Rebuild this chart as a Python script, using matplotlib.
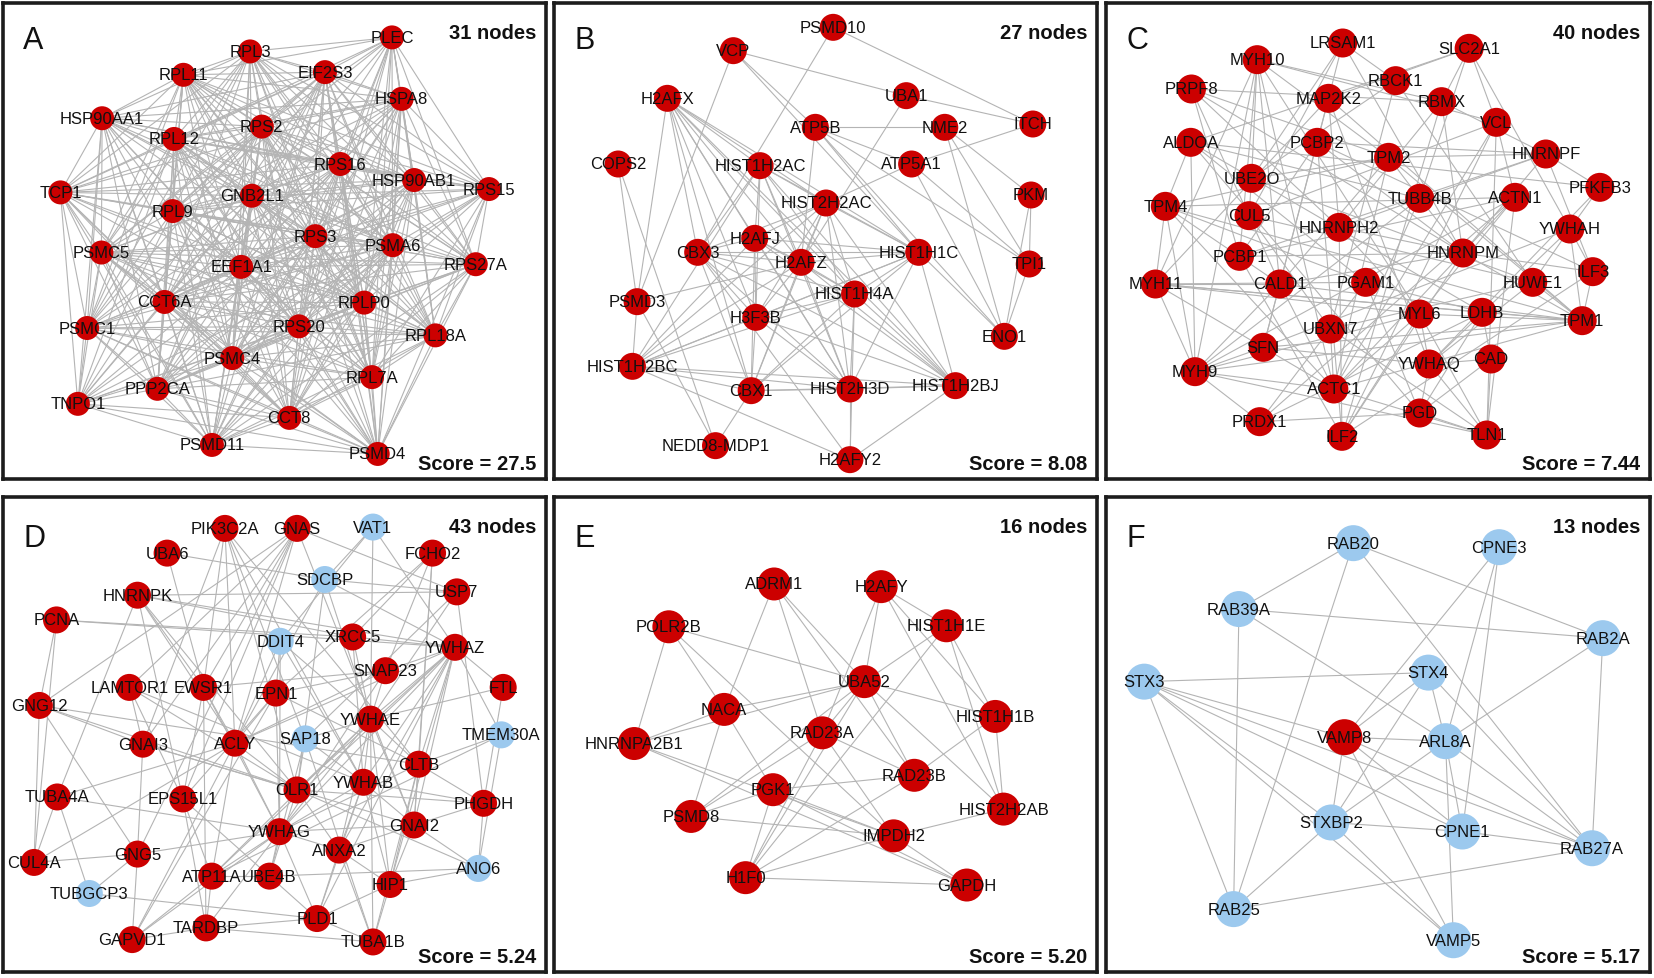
import itertools
import matplotlib
matplotlib.use("Agg")
import matplotlib.pyplot as plt
from matplotlib.collections import LineCollection

plt.rcParams['font.family'] = ['Liberation Sans', 'DejaVu Sans']

W, H = 1654, 979
RED = "#cc0000"
BLUE = "#9cc9ee"
EDGE = "#b4b4b4"

# ---------------- panel A ----------------
A_names = ["PLEC", "RPL3", "RPL11", "EIF2S3", "HSPA8", "HSP90AA1", "RPS2", "RPL12",
           "RPS16", "HSP90AB1", "RPS15", "TCP1", "GNB2L1", "RPL9", "RPS3", "PSMA6",
           "PSMC5", "EEF1A1", "RPS27A", "CCT6A", "RPLP0", "PSMC1", "RPS20", "RPL18A",
           "PSMC4", "RPL7A", "PPP2CA", "TNPO1", "CCT8", "PSMD11", "PSMD4"]
A_x = [1103, 705, 518, 915, 1130, 290, 738, 492, 958, 1165, 1375, 173, 710, 488, 888, 1105,
       288, 680, 1338, 465, 1025, 248, 842, 1225, 655, 1047, 445, 222, 815, 598, 1063]
A_y = [118, 160, 230, 222, 302, 360, 385, 422, 497, 545, 572, 582, 592, 638, 713, 740,
       762, 805, 797, 910, 912, 988, 983, 1010, 1078, 1135, 1170, 1215, 1257, 1338, 1365]
# near-complete cluster: pairs that are NOT linked
A_missing = [
    ("PLEC", "TNPO1"), ("PLEC", "PSMC1"), ("PLEC", "PSMD11"), ("PLEC", "PPP2CA"),
    ("PLEC", "PSMC5"), ("PLEC", "TCP1"), ("PLEC", "HSP90AA1"), ("PLEC", "CCT6A"),
    ("PLEC", "PSMC4"), ("RPS15", "TNPO1"), ("RPS15", "PSMC1"), ("RPS15", "TCP1"),
    ("RPS15", "HSP90AA1"), ("RPS15", "PPP2CA"), ("RPS15", "PSMD11"), ("RPS15", "PSMC5"),
    ("RPS27A", "TNPO1"), ("RPS27A", "TCP1"), ("RPS27A", "PSMC1"), ("RPL18A", "TNPO1"),
    ("RPL18A", "HSP90AA1"), ("RPL18A", "TCP1"), ("TNPO1", "RPL3"), ("TNPO1", "EIF2S3"),
    ("TNPO1", "HSPA8"), ("TNPO1", "RPL11"), ("TNPO1", "HSP90AB1"), ("TNPO1", "RPS16"),
    ("TNPO1", "RPL7A"), ("PSMD4", "HSP90AA1"), ("PSMD4", "RPL11"), ("PSMD4", "TCP1"),
    ("PSMD4", "RPL3"), ("PSMD11", "RPL3"), ("PSMD11", "HSPA8"), ("PSMD11", "RPL11"),
    ("PSMC1", "HSPA8"), ("PSMC1", "EIF2S3"), ("PSMC1", "HSP90AB1"), ("PPP2CA", "HSPA8"),
    ("PPP2CA", "RPL3"), ("HSP90AA1", "RPS27A"), ("HSP90AA1", "RPL7A"), ("HSP90AA1", "CCT8"),
    ("TCP1", "RPL7A"), ("RPL3", "CCT8"), ("RPL11", "CCT8"), ("PSMC5", "HSP90AB1"),
    ("HSPA8", "PSMC5"), ("PLEC", "PSMD4"), ("RPS15", "CCT8"), ("TCP1", "PSMD4"),
]
missing_set = {frozenset(p) for p in A_missing}
A_edges = [p for p in itertools.combinations(A_names, 2) if frozenset(p) not in missing_set]

# ---------------- panel B ----------------
B_names = ["PSMD10", "VCP", "H2AFX", "UBA1", "ATP5B", "NME2", "ITCH", "COPS2", "HIST1H2AC",
           "ATP5A1", "PKM", "HIST2H2AC", "H2AFJ", "CBX3", "H2AFZ", "HIST1H1C", "TPI1",
           "HIST1H4A", "PSMD3", "H3F3B", "ENO1", "HIST1H2BC", "CBX1", "HIST2H3D",
           "HIST1H2BJ", "NEDD8-MDP1", "H2AFY2"]
B_x = [795, 515, 330, 1000, 745, 1108, 1355, 192, 590, 1015, 1350, 775, 575, 415, 705, 1035,
       1345, 855, 245, 578, 1275, 232, 565, 842, 1138, 465, 842]
B_y = [85, 155, 298, 290, 385, 385, 375, 495, 500, 495, 588, 612, 718, 760, 790, 760,
       795, 885, 908, 955, 1012, 1102, 1175, 1170, 1160, 1340, 1382]
B_edges = [
    ("VCP", "UBA1"), ("VCP", "ATP5B"), ("VCP", "HIST1H1C"), ("VCP", "PSMD3"),
    ("PSMD10", "ITCH"), ("PSMD10", "CBX3"), ("UBA1", "ITCH"), ("UBA1", "H2AFZ"),
    ("H2AFX", "HIST1H2AC"), ("H2AFX", "HIST2H2AC"), ("H2AFX", "H2AFJ"), ("H2AFX", "H2AFZ"),
    ("H2AFX", "HIST1H1C"), ("H2AFX", "HIST1H4A"), ("H2AFX", "H3F3B"), ("H2AFX", "CBX3"),
    ("H2AFX", "CBX1"), ("H2AFX", "HIST2H3D"), ("H2AFX", "HIST1H2BJ"), ("H2AFX", "PSMD3"),
    ("ATP5B", "NME2"), ("ATP5B", "ATP5A1"), ("ATP5B", "HIST1H1C"), ("ATP5B", "TPI1"),
    ("ATP5B", "H2AFZ"), ("ATP5B", "ENO1"), ("NME2", "PKM"), ("NME2", "TPI1"),
    ("NME2", "ENO1"), ("ITCH", "ATP5A1"), ("ATP5A1", "ENO1"), ("ATP5A1", "TPI1"),
    ("ATP5A1", "HIST2H2AC"), ("PKM", "TPI1"), ("PKM", "ENO1"), ("TPI1", "ENO1"),
    ("HIST1H1C", "ENO1"), ("COPS2", "PSMD3"), ("COPS2", "NEDD8-MDP1"),
    ("HIST1H2AC", "HIST2H2AC"), ("HIST1H2AC", "H2AFJ"), ("HIST1H2AC", "H2AFZ"),
    ("HIST1H2AC", "HIST1H1C"), ("HIST1H2AC", "HIST1H4A"), ("HIST1H2AC", "H3F3B"),
    ("HIST1H2AC", "CBX3"), ("HIST1H2AC", "HIST1H2BJ"), ("HIST1H2AC", "HIST2H3D"),
    ("HIST1H2AC", "HIST1H2BC"), ("HIST2H2AC", "H2AFJ"), ("HIST2H2AC", "H2AFZ"),
    ("HIST2H2AC", "HIST1H1C"), ("HIST2H2AC", "HIST1H4A"), ("HIST2H2AC", "H3F3B"),
    ("HIST2H2AC", "CBX3"), ("HIST2H2AC", "CBX1"), ("HIST2H2AC", "HIST2H3D"),
    ("HIST2H2AC", "HIST1H2BJ"), ("HIST2H2AC", "HIST1H2BC"), ("H2AFJ", "H2AFZ"),
    ("H2AFJ", "HIST1H1C"), ("H2AFJ", "HIST1H4A"), ("H2AFJ", "H3F3B"), ("H2AFJ", "CBX3"),
    ("H2AFJ", "HIST2H3D"), ("H2AFJ", "HIST1H2BJ"), ("H2AFJ", "HIST1H2BC"), ("H2AFJ", "CBX1"),
    ("CBX3", "H2AFZ"), ("CBX3", "HIST1H1C"), ("CBX3", "HIST1H4A"), ("CBX3", "H3F3B"),
    ("CBX3", "CBX1"), ("CBX3", "HIST2H3D"), ("CBX3", "HIST1H2BJ"), ("H2AFZ", "HIST1H1C"),
    ("H2AFZ", "HIST1H4A"), ("H2AFZ", "H3F3B"), ("H2AFZ", "CBX1"), ("H2AFZ", "HIST2H3D"),
    ("H2AFZ", "HIST1H2BJ"), ("H2AFZ", "HIST1H2BC"), ("HIST1H1C", "HIST1H4A"),
    ("HIST1H1C", "H3F3B"), ("HIST1H1C", "HIST2H3D"), ("HIST1H1C", "HIST1H2BJ"),
    ("HIST1H1C", "HIST1H2BC"), ("HIST1H1C", "CBX1"), ("HIST1H4A", "H3F3B"),
    ("HIST1H4A", "HIST2H3D"), ("HIST1H4A", "HIST1H2BJ"), ("HIST1H4A", "HIST1H2BC"),
    ("HIST1H4A", "CBX1"), ("HIST1H4A", "H2AFY2"), ("PSMD3", "HIST1H2BC"), ("PSMD3", "H2AFZ"),
    ("H3F3B", "HIST2H3D"), ("H3F3B", "HIST1H2BJ"), ("H3F3B", "HIST1H2BC"), ("H3F3B", "CBX1"),
    ("HIST1H2BC", "CBX1"), ("HIST1H2BC", "HIST2H3D"), ("HIST1H2BC", "HIST1H2BJ"),
    ("HIST1H2BC", "H2AFY2"), ("CBX1", "HIST2H3D"), ("CBX1", "HIST1H2BJ"),
    ("CBX1", "NEDD8-MDP1"), ("HIST2H3D", "HIST1H2BJ"), ("HIST2H3D", "H2AFY2"),
    ("HIST1H2BJ", "H2AFY2"), ("H2AFY2", "CBX3"), ("NEDD8-MDP1", "PSMD3"),
]

# ---------------- panel C ----------------
C_names = ["LRSAM1", "SLC2A1", "MYH10", "RBCK1", "PRPF8", "MAP2K2", "RBMX", "VCL", "ALDOA",
           "PCBP2", "TPM2", "HNRNPF", "UBE2O", "PFKFB3", "TUBB4B", "ACTN1", "TPM4", "CUL5",
           "HNRNPH2", "YWHAH", "HNRNPM", "PCBP1", "ILF3", "MYH11", "CALD1", "PGAM1", "HUWE1",
           "MYL6", "LDHB", "TPM1", "UBXN7", "SFN", "CAD", "YWHAQ", "MYH9", "ACTC1", "PGD",
           "PRDX1", "ILF2", "TLN1"]
C_x = [690, 1048, 448, 840, 262, 650, 970, 1125, 260, 618, 820, 1265, 432, 1418, 908, 1178,
       188, 425, 680, 1333, 1030, 398, 1398, 160, 512, 755, 1228, 908, 1085, 1368, 655, 465,
       1110, 935, 272, 665, 908, 455, 688, 1098]
C_y = [132, 148, 182, 245, 270, 298, 308, 370, 430, 430, 475, 465, 538, 565, 598, 595, 622,
       650, 685, 690, 762, 772, 818, 855, 855, 850, 850, 945, 940, 965, 990, 1045, 1080, 1095,
       1118, 1170, 1242, 1268, 1312, 1308]
C_edges = [
    ("MYH9", "MYH10"), ("MYH9", "MYH11"), ("MYH10", "MYH11"), ("MYH9", "MYL6"),
    ("MYH10", "MYL6"), ("MYH11", "MYL6"), ("MYH9", "ACTC1"), ("MYH10", "ACTC1"),
    ("MYH11", "ACTC1"), ("MYH9", "TPM1"), ("MYH10", "TPM2"), ("MYH11", "TPM4"),
    ("MYH9", "TPM4"), ("MYH11", "CALD1"), ("MYH9", "CALD1"), ("MYH10", "CALD1"),
    ("ACTN1", "VCL"), ("ACTN1", "TLN1"), ("VCL", "TLN1"), ("ACTN1", "MYH9"),
    ("ACTN1", "ACTC1"), ("VCL", "ACTC1"), ("TLN1", "ACTC1"), ("TPM1", "TPM2"),
    ("TPM1", "TPM4"), ("TPM2", "TPM4"), ("TPM1", "ACTC1"), ("TPM2", "ACTC1"),
    ("TPM4", "ACTC1"), ("CALD1", "TPM1"), ("CALD1", "TPM2"), ("CALD1", "TPM4"),
    ("CALD1", "ACTC1"), ("MYL6", "ACTC1"), ("MYL6", "TPM1"), ("MYL6", "ACTN1"),
    ("TLN1", "MYH9"), ("VCL", "MYH10"), ("MYH9", "SFN"), ("MYH10", "PCBP1"),
    ("YWHAH", "YWHAQ"), ("YWHAH", "SFN"), ("YWHAQ", "SFN"), ("YWHAQ", "HUWE1"),
    ("YWHAH", "HUWE1"), ("YWHAQ", "CAD"), ("YWHAH", "PFKFB3"), ("YWHAQ", "PFKFB3"),
    ("YWHAQ", "MAP2K2"), ("YWHAH", "ILF3"), ("YWHAQ", "TLN1"), ("YWHAQ", "PGD"),
    ("SFN", "MAP2K2"), ("SFN", "CALD1"), ("YWHAH", "TPM1"), ("YWHAQ", "MYL6"),
    ("PCBP1", "PCBP2"), ("PCBP1", "HNRNPF"), ("PCBP2", "HNRNPF"), ("HNRNPF", "HNRNPH2"),
    ("HNRNPH2", "HNRNPM"), ("HNRNPM", "HNRNPF"), ("HNRNPM", "PCBP1"), ("HNRNPM", "PCBP2"),
    ("HNRNPM", "RBMX"), ("RBMX", "HNRNPF"), ("RBMX", "HNRNPH2"), ("PRPF8", "HNRNPM"),
    ("PRPF8", "RBMX"), ("PRPF8", "PCBP1"), ("PRPF8", "HNRNPH2"), ("ILF2", "ILF3"),
    ("ILF3", "HNRNPM"), ("ILF2", "HNRNPM"), ("ILF3", "HNRNPF"), ("ILF2", "PCBP1"),
    ("ILF2", "RBMX"), ("ILF3", "PCBP2"), ("PRPF8", "TPM2"), ("PRPF8", "CALD1"),
    ("CUL5", "UBE2O"), ("HUWE1", "UBE2O"), ("RBCK1", "UBE2O"), ("LRSAM1", "UBE2O"),
    ("UBXN7", "CUL5"), ("HUWE1", "CUL5"), ("HUWE1", "UBXN7"), ("RBCK1", "HUWE1"),
    ("LRSAM1", "RBCK1"), ("LRSAM1", "CUL5"), ("LRSAM1", "PCBP2"), ("LRSAM1", "HNRNPM"),
    ("RBCK1", "UBXN7"), ("UBXN7", "ACTC1"), ("UBXN7", "TLN1"), ("UBE2O", "TPM2"),
    ("ALDOA", "PGAM1"), ("ALDOA", "LDHB"), ("PGAM1", "LDHB"), ("ALDOA", "PGD"),
    ("PGAM1", "PGD"), ("LDHB", "PGD"), ("PFKFB3", "ALDOA"), ("SLC2A1", "ALDOA"),
    ("ALDOA", "TPM4"), ("ALDOA", "MYH9"), ("PRDX1", "PGD"), ("PRDX1", "LDHB"),
    ("PRDX1", "PGAM1"), ("CAD", "LDHB"), ("CAD", "PGD"), ("ALDOA", "TUBB4B"),
    ("TUBB4B", "MYH9"), ("TUBB4B", "ACTC1"), ("TUBB4B", "HNRNPM"), ("TUBB4B", "TPM2"),
    ("SLC2A1", "MAP2K2"), ("SLC2A1", "RBMX"), ("SLC2A1", "TUBB4B"), ("SLC2A1", "YWHAH"),
    ("SLC2A1", "VCL"), ("MAP2K2", "HNRNPH2"), ("MAP2K2", "MYH11"), ("MAP2K2", "TPM1"),
    ("PCBP2", "CALD1"), ("PCBP2", "ILF2"), ("VCL", "CUL5"), ("VCL", "ILF2"),
    ("ACTN1", "PCBP1"), ("ACTN1", "TPM4"), ("ACTN1", "PRDX1"), ("HNRNPH2", "ILF2"),
    ("HNRNPH2", "MYL6"), ("PGAM1", "TPM4"), ("PGAM1", "MYH11"), ("LDHB", "MYH11"),
    ("LDHB", "TPM1"), ("CAD", "TLN1"), ("TLN1", "MYL6"), ("TLN1", "PGD"),
    ("TPM1", "HNRNPM"), ("HUWE1", "TPM1"), ("ILF3", "TPM1"), ("PFKFB3", "HNRNPF"),
    ("MYH10", "RBMX"), ("MYH10", "UBE2O"), ("PRDX1", "MYH9"), ("SFN", "TPM1"),
    ("MYL6", "ILF2"), ("CALD1", "HNRNPM"), ("MYH11", "TPM1"), ("TPM2", "HNRNPF"),
]

# ---------------- panel D ----------------
D_names = ["PIK3C2A", "GNAS", "VAT1", "UBA6", "FCHO2", "SDCBP", "USP7", "HNRNPK", "PCNA",
           "DDIT4", "XRCC5", "YWHAZ", "SNAP23", "LAMTOR1", "EWSR1", "EPN1", "FTL", "GNG12",
           "YWHAE", "TMEM30A", "SAP18", "GNAI3", "ACLY", "CLTB", "YWHAB", "OLR1", "TUBA4A",
           "EPS15L1", "PHGDH", "GNAI2", "YWHAG", "ANXA2", "CUL4A", "GNG5", "ANO6", "ATP11A",
           "UBE4B", "HIP1", "TUBGCP3", "PLD1", "TARDBP", "GAPVD1", "TUBA1B"]
D_x = [630, 832, 1045, 468, 1212, 910, 1280, 385, 158, 785, 988, 1275, 1080, 362, 570, 773,
       1410, 110, 1038, 1405, 855, 400, 658, 1173, 1018, 832, 160, 512, 1355, 1160, 783, 950,
       95, 385, 1340, 593, 755, 1093, 250, 888, 577, 370, 1045]
D_y = [122, 122, 118, 196, 196, 275, 312, 322, 396, 460, 447, 478, 548, 598, 598, 615, 598,
       652, 693, 740, 752, 768, 765, 828, 882, 905, 926, 932, 945, 1010, 1030, 1085, 1122,
       1097, 1140, 1163, 1163, 1188, 1215, 1290, 1318, 1353, 1360]
D_blue = ["VAT1", "SDCBP", "DDIT4", "SAP18", "TMEM30A", "ANO6", "TUBGCP3"]
D_edges = [
    ("PIK3C2A", "EWSR1"), ("PIK3C2A", "ACLY"), ("PIK3C2A", "SAP18"), ("PIK3C2A", "OLR1"),
    ("PIK3C2A", "YWHAB"), ("PIK3C2A", "CLTB"), ("PIK3C2A", "GNAI3"),
    ("GNAS", "LAMTOR1"), ("GNAS", "EWSR1"), ("GNAS", "GNAI3"), ("GNAS", "GNG12"),
    ("GNAS", "ACLY"), ("GNAS", "EPS15L1"), ("GNAS", "GNG5"), ("GNAS", "USP7"),
    ("GNAS", "GNAI2"), ("VAT1", "SDCBP"), ("VAT1", "DDIT4"), ("VAT1", "YWHAE"),
    ("VAT1", "YWHAZ"), ("UBA6", "SDCBP"), ("UBA6", "EWSR1"), ("FCHO2", "XRCC5"),
    ("FCHO2", "SNAP23"), ("FCHO2", "CLTB"), ("FCHO2", "EPN1"), ("FCHO2", "GNAI2"),
    ("SDCBP", "USP7"), ("SDCBP", "YWHAZ"), ("SDCBP", "YWHAE"), ("SDCBP", "OLR1"),
    ("SDCBP", "ACLY"), ("USP7", "HNRNPK"), ("USP7", "PHGDH"), ("USP7", "YWHAE"),
    ("USP7", "SAP18"), ("HNRNPK", "XRCC5"), ("HNRNPK", "YWHAZ"), ("HNRNPK", "EWSR1"),
    ("HNRNPK", "ACLY"), ("HNRNPK", "OLR1"), ("HNRNPK", "TUBA4A"), ("HNRNPK", "EPS15L1"),
    ("PCNA", "XRCC5"), ("PCNA", "YWHAZ"), ("PCNA", "GNG12"), ("PCNA", "CUL4A"),
    ("DDIT4", "EPN1"), ("DDIT4", "YWHAE"), ("DDIT4", "ACLY"), ("DDIT4", "YWHAB"),
    ("DDIT4", "YWHAG"), ("XRCC5", "YWHAZ"), ("XRCC5", "YWHAE"), ("XRCC5", "YWHAB"),
    ("YWHAZ", "YWHAE"), ("YWHAZ", "YWHAB"), ("YWHAZ", "YWHAG"), ("YWHAZ", "SNAP23"),
    ("YWHAZ", "FTL"), ("YWHAZ", "TMEM30A"), ("YWHAZ", "CLTB"), ("YWHAZ", "GNAI2"),
    ("YWHAZ", "ANXA2"), ("YWHAZ", "HIP1"), ("YWHAZ", "OLR1"), ("YWHAZ", "ACLY"),
    ("YWHAZ", "ATP11A"), ("YWHAZ", "PLD1"), ("SNAP23", "YWHAE"), ("SNAP23", "ACLY"),
    ("SNAP23", "EPN1"), ("SNAP23", "YWHAG"), ("SNAP23", "EWSR1"), ("LAMTOR1", "GNAI3"),
    ("LAMTOR1", "YWHAB"), ("LAMTOR1", "OLR1"), ("LAMTOR1", "EPS15L1"), ("EWSR1", "ACLY"),
    ("EWSR1", "EPS15L1"), ("EWSR1", "YWHAG"), ("EWSR1", "TARDBP"), ("EPN1", "ACLY"),
    ("EPN1", "EPS15L1"), ("EPN1", "CLTB"), ("EPN1", "YWHAG"), ("EPN1", "GAPVD1"),
    ("FTL", "YWHAE"), ("FTL", "PHGDH"), ("GNG12", "GNAI3"), ("GNG12", "OLR1"),
    ("GNG12", "CLTB"), ("GNG12", "GNG5"), ("GNG12", "CUL4A"), ("YWHAE", "YWHAB"),
    ("YWHAE", "YWHAG"), ("YWHAE", "SAP18"), ("YWHAE", "OLR1"), ("YWHAE", "CLTB"),
    ("YWHAE", "ANXA2"), ("YWHAE", "HIP1"), ("YWHAE", "TUBA1B"), ("YWHAE", "GNAI2"),
    ("YWHAE", "ATP11A"), ("TMEM30A", "ANO6"), ("TMEM30A", "CLTB"), ("TMEM30A", "ATP11A"),
    ("SAP18", "OLR1"), ("SAP18", "YWHAB"), ("SAP18", "UBE4B"), ("SAP18", "TUBA1B"),
    ("GNAI3", "GNG5"), ("GNAI3", "GNAI2"), ("GNAI3", "OLR1"), ("ACLY", "OLR1"),
    ("ACLY", "YWHAG"), ("ACLY", "GAPVD1"), ("ACLY", "ATP11A"), ("ACLY", "CUL4A"),
    ("CLTB", "HIP1"), ("CLTB", "TUBA1B"), ("CLTB", "GNAI2"), ("CLTB", "PHGDH"),
    ("CLTB", "YWHAG"), ("YWHAB", "YWHAG"), ("YWHAB", "ANXA2"), ("YWHAB", "GNAI2"),
    ("YWHAB", "HIP1"), ("YWHAB", "PLD1"), ("YWHAB", "PHGDH"), ("OLR1", "ANXA2"),
    ("OLR1", "UBE4B"), ("OLR1", "PHGDH"), ("OLR1", "ANO6"), ("TUBA4A", "CUL4A"),
    ("TUBA4A", "TUBGCP3"), ("TUBA4A", "ACLY"), ("TUBA4A", "YWHAG"), ("EPS15L1", "ATP11A"),
    ("EPS15L1", "TARDBP"), ("EPS15L1", "UBE4B"), ("PHGDH", "GNAI2"), ("PHGDH", "ANO6"),
    ("GNAI2", "HIP1"), ("GNAI2", "ANXA2"), ("GNAI2", "YWHAG"), ("GNAI2", "ANO6"),
    ("YWHAG", "ANXA2"), ("YWHAG", "UBE4B"), ("YWHAG", "ATP11A"), ("YWHAG", "PLD1"),
    ("YWHAG", "TARDBP"), ("YWHAG", "GAPVD1"), ("YWHAG", "GNG5"), ("ANXA2", "HIP1"),
    ("ANXA2", "TUBA1B"), ("ANXA2", "PLD1"), ("CUL4A", "GNG5"), ("GNG5", "TUBGCP3"),
    ("GNG5", "GAPVD1"), ("ATP11A", "TARDBP"), ("ATP11A", "GAPVD1"), ("ATP11A", "UBE4B"),
    ("UBE4B", "PLD1"), ("UBE4B", "ANO6"), ("HIP1", "TUBA1B"), ("HIP1", "PLD1"),
    ("HIP1", "ANO6"), ("TUBGCP3", "PLD1"), ("PLD1", "TUBA1B"), ("PLD1", "TARDBP"),
    ("TARDBP", "GAPVD1"), ("TARDBP", "TUBA1B"),
]

# ---------------- panel E ----------------
E_names = ["ADRM1", "H2AFY", "POLR2B", "HIST1H1E", "UBA52", "NACA", "HIST1H1B", "HNRNPA2B1",
           "RAD23A", "RAD23B", "PGK1", "PSMD8", "HIST2H2AB", "IMPDH2", "H1F0", "GAPDH"]
E_x = [635, 935, 340, 1118, 888, 495, 1255, 243, 770, 1028, 632, 402, 1278, 970, 555, 1175]
E_y = [290, 298, 418, 415, 582, 665, 686, 767, 735, 862, 905, 985, 963, 1043, 1168, 1190]
E_edges = [
    ("ADRM1", "NACA"), ("ADRM1", "RAD23A"), ("ADRM1", "UBA52"), ("ADRM1", "RAD23B"),
    ("H2AFY", "UBA52"), ("H2AFY", "RAD23A"), ("H2AFY", "HIST1H1E"), ("H2AFY", "HIST1H1B"),
    ("H2AFY", "HIST2H2AB"), ("POLR2B", "UBA52"), ("POLR2B", "NACA"), ("POLR2B", "HNRNPA2B1"),
    ("POLR2B", "IMPDH2"), ("HIST1H1E", "UBA52"), ("HIST1H1E", "HIST1H1B"),
    ("HIST1H1E", "HIST2H2AB"), ("HIST1H1E", "H1F0"), ("UBA52", "NACA"),
    ("UBA52", "HNRNPA2B1"), ("UBA52", "RAD23A"), ("UBA52", "HIST1H1B"), ("UBA52", "RAD23B"),
    ("UBA52", "HIST2H2AB"), ("UBA52", "H1F0"), ("UBA52", "PSMD8"), ("NACA", "HNRNPA2B1"),
    ("NACA", "PGK1"), ("NACA", "PSMD8"), ("HNRNPA2B1", "IMPDH2"), ("HNRNPA2B1", "GAPDH"),
    ("RAD23A", "PSMD8"), ("RAD23A", "RAD23B"), ("RAD23A", "H1F0"), ("RAD23A", "IMPDH2"),
    ("HIST1H1B", "RAD23B"), ("HIST1H1B", "HIST2H2AB"), ("RAD23B", "PGK1"), ("RAD23B", "H1F0"),
    ("PGK1", "IMPDH2"), ("PGK1", "GAPDH"), ("PGK1", "H1F0"), ("PSMD8", "PGK1"),
    ("PSMD8", "IMPDH2"), ("HIST2H2AB", "IMPDH2"), ("IMPDH2", "H1F0"), ("IMPDH2", "GAPDH"),
    ("H1F0", "GAPDH"),
]

# ---------------- panel F ----------------
F_names = ["RAB20", "CPNE3", "RAB39A", "RAB2A", "STX3", "STX4", "VAMP8", "ARL8A", "STXBP2",
           "CPNE1", "RAB27A", "RAB25", "VAMP5"]
F_x = [710, 1118, 390, 1408, 125, 920, 685, 968, 648, 1015, 1378, 375, 990]
F_y = [168, 180, 365, 452, 582, 555, 748, 760, 1003, 1030, 1080, 1262, 1355]
F_red = ["VAMP8"]
F_edges = [
    ("RAB20", "RAB39A"), ("RAB20", "RAB2A"), ("RAB20", "RAB25"), ("RAB20", "RAB27A"),
    ("RAB39A", "RAB2A"), ("RAB39A", "RAB25"), ("RAB39A", "ARL8A"), ("CPNE3", "VAMP8"),
    ("CPNE3", "ARL8A"), ("CPNE3", "CPNE1"), ("RAB2A", "ARL8A"), ("RAB2A", "RAB27A"),
    ("STX3", "STX4"), ("STX3", "VAMP8"), ("STX3", "STXBP2"), ("STX3", "RAB25"),
    ("STX3", "RAB27A"), ("STX3", "CPNE1"), ("STX3", "VAMP5"), ("STX4", "VAMP8"),
    ("STX4", "ARL8A"), ("STX4", "STXBP2"), ("STX4", "RAB27A"), ("VAMP8", "ARL8A"),
    ("VAMP8", "STXBP2"), ("VAMP8", "CPNE1"), ("VAMP8", "RAB27A"), ("VAMP8", "VAMP5"),
    ("ARL8A", "STXBP2"), ("ARL8A", "CPNE1"), ("ARL8A", "VAMP5"), ("ARL8A", "RAB27A"),
    ("STXBP2", "CPNE1"), ("STXBP2", "RAB25"), ("STXBP2", "VAMP5"), ("CPNE1", "RAB27A"),
    ("RAB25", "RAB27A"),
]

# panel boxes in figure pixels (left, top, right, bottom) and frame in layout units
panels = [
    ("A", A_names, A_x, A_y, A_edges, [], (3, 4, 546, 480), (12, 1535, 15, 1440), 24, "31 nodes", "Score = 27.5"),
    ("B", B_names, B_x, B_y, B_edges, [], (554, 4, 1097, 480), (12, 1535, 12, 1440), 27, "27 nodes", "Score = 8.08"),
    ("C", C_names, C_x, C_y, C_edges, [], (1106, 4, 1650, 480), (20, 1560, 12, 1440), 29, "40 nodes", "Score = 7.44"),
    ("D", D_names, D_x, D_y, D_edges, D_blue, (3, 498, 546, 973), (8, 1530, 28, 1450), 27, "43 nodes", "Score = 5.24"),
    ("E", E_names, E_x, E_y, E_edges, [], (554, 498, 1097, 973), (18, 1540, 30, 1450), 33, "16 nodes", "Score = 5.20"),
    ("F", F_names, F_x, F_y, F_edges, "all_but_red", (1106, 498, 1650, 973), (18, 1540, 30, 1450), 36, "13 nodes", "Score = 5.17"),
]

fig = plt.figure(figsize=(W / 100, H / 100), dpi=100)
fig.patch.set_facecolor("white")

for i, (letter, names, xs, ys, edges, blue, box, frame, diam, ntext, stext) in enumerate(panels):
    l, t, r, b = box
    ax = fig.add_axes([l / W, 1 - b / H, (r - l) / W, (b - t) / H])
    ax.set_xlim(frame[0], frame[1])
    ax.set_ylim(frame[3], frame[2])
    ax.set_xticks([])
    ax.set_yticks([])
    for sp in ax.spines.values():
        sp.set_linewidth(2.6)
        sp.set_color("#1c1c1c")

    pos = {n: (x, y) for n, x, y in zip(names, xs, ys)}
    segs = [[pos[a], pos[c]] for a, c in edges]
    ax.add_collection(LineCollection(segs, colors=EDGE, linewidths=0.8, zorder=1))

    if blue == "all_but_red":
        cols = [RED if n in F_red else BLUE for n in names]
    else:
        cols = [BLUE if n in blue else RED for n in names]
    ax.scatter(xs, ys, s=(diam * 0.72) ** 2, c=cols, linewidths=0, zorder=2)
    for n, x, y in zip(names, xs, ys):
        ax.text(x, y, n, ha="center", va="center", fontsize=12, color="#111111", zorder=3)

    # panel letter sits a little lower in the bottom row
    ly = 0.906 if i < 3 else 0.897
    ax.text(0.037, ly, letter, transform=ax.transAxes, fontsize=22,
            ha="left", va="baseline", color="#111111")
    ax.text(0.982, 0.926, ntext, transform=ax.transAxes, fontsize=14.5,
            fontweight="bold", ha="right", va="baseline", color="#111111")
    ax.text(0.982, 0.022, stext, transform=ax.transAxes, fontsize=14.5,
            fontweight="bold", ha="right", va="baseline", color="#111111")

fig.savefig("out.png", dpi=100, facecolor="white")
